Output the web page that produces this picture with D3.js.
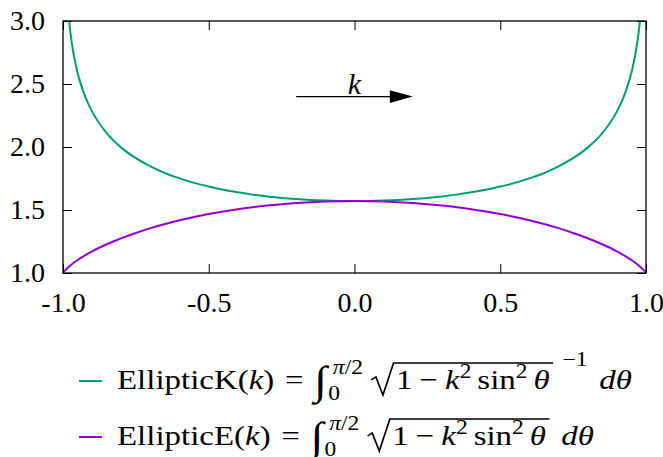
<!DOCTYPE html>
<html>
<head>
<meta charset="utf-8">
<script src="https://cdn.jsdelivr.net/npm/d3@7"></script>
<style>
  html,body{margin:0;padding:0;background:#fff;}
  svg{display:block;}
  svg text{font-family:"Liberation Serif",serif !important;}
</style>
</head>
<body>
<svg id="chart" width="663" height="457"></svg>
<script>
/* ---------- data ---------- */
const kK   = [-0.985,-0.98,-0.975,-0.97,-0.96,-0.95,-0.94,-0.92,-0.9,-0.85,-0.8,-0.75,-0.7,-0.65,-0.6,-0.55,-0.5,-0.45,-0.4,-0.35,-0.3,-0.25,-0.2,-0.15,-0.1,-0.05,
              0,0.05,0.1,0.15,0.2,0.25,0.3,0.35,0.4,0.45,0.5,0.55,0.6,0.65,0.7,0.75,0.8,0.85,0.9,0.92,0.94,0.95,0.96,0.97,0.975,0.98,0.985];
const valK = [3.160,3.021,2.915,2.828,2.693,2.590,2.507,2.378,2.281,2.110,1.995,1.911,1.846,1.793,1.751,1.715,1.686,1.661,1.640,1.622,1.608,1.596,1.587,1.580,1.575,1.572,
              1.571,1.572,1.575,1.580,1.587,1.596,1.608,1.622,1.640,1.661,1.686,1.715,1.751,1.793,1.846,1.911,1.995,2.110,2.281,2.378,2.507,2.590,2.693,2.828,2.915,3.021,3.160];
const kE   = [-1,-0.995,-0.99,-0.98,-0.97,-0.96,-0.95,-0.94,-0.92,-0.9,-0.85,-0.8,-0.75,-0.7,-0.65,-0.6,-0.55,-0.5,-0.45,-0.4,-0.35,-0.3,-0.25,-0.2,-0.15,-0.1,-0.05,
              0,0.05,0.1,0.15,0.2,0.25,0.3,0.35,0.4,0.45,0.5,0.55,0.6,0.65,0.7,0.75,0.8,0.85,0.9,0.92,0.94,0.95,0.96,0.97,0.98,0.99,0.995,1];
const valE = [1.000,1.016,1.028,1.050,1.069,1.087,1.103,1.118,1.146,1.172,1.228,1.276,1.318,1.356,1.389,1.418,1.444,1.468,1.488,1.506,1.522,1.535,1.546,1.555,1.562,1.567,1.570,
              1.571,1.570,1.567,1.562,1.555,1.546,1.535,1.522,1.506,1.488,1.468,1.444,1.418,1.389,1.356,1.318,1.276,1.228,1.172,1.146,1.118,1.103,1.087,1.069,1.050,1.028,1.016,1.000];
const xTicks = [-1,-0.5,0,0.5,1];
const xTickLabels = ["-1.0","-0.5","0.0","0.5","1.0"];
const yTicks = [1,1.5,2,2.5,3];
const yTickLabels = ["1.0","1.5","2.0","2.5","3.0"];
const arrowFrom = [-0.2,2.4], arrowTo = [0.2,2.4], arrowLabelAt = [0,2.5];

/* ---------- layout ---------- */
const FONT = "Liberation Serif";
const GREEN = "#009e73", PURPLE = "#9400d3";
const P = {left:63, right:646, top:21, bottom:273};

const svg = d3.select("#chart");
const x = d3.scaleLinear().domain([-1,1]).range([P.left,P.right]);
const y = d3.scaleLinear().domain([1,3]).range([P.bottom,P.top]);

/* axes: inward ticks, mirrored */
function styleAxis(g){
  g.select(".domain").remove();
  g.attr("font-family",FONT).attr("font-size",28);
  g.selectAll(".tick line").attr("stroke","#000").attr("stroke-width",1);
  g.selectAll(".tick text").attr("fill","#000");
}
svg.append("g").attr("transform",`translate(0,${P.bottom})`)
   .call(d3.axisBottom(x).tickValues(xTicks).tickSize(-9).tickPadding(19)
         .tickFormat((d,i)=>xTickLabels[i])).call(styleAxis);
svg.append("g").attr("transform",`translate(0,${P.top})`)
   .call(d3.axisTop(x).tickValues(xTicks).tickSize(-9).tickFormat("")).call(styleAxis);
svg.append("g").attr("transform",`translate(${P.left},0)`)
   .call(d3.axisLeft(y).tickValues(yTicks).tickSize(-9).tickPadding(18)
         .tickFormat((d,i)=>yTickLabels[i])).call(styleAxis);
svg.append("g").attr("transform",`translate(${P.right},0)`)
   .call(d3.axisRight(y).tickValues(yTicks).tickSize(-9).tickFormat("")).call(styleAxis);

/* curves */
svg.append("clipPath").attr("id","clip").append("rect")
   .attr("x",P.left).attr("y",P.top).attr("width",P.right-P.left).attr("height",P.bottom-P.top);
const line = d3.line().x(d=>x(d[0])).y(d=>y(d[1])).curve(d3.curveMonotoneX);
const plot = svg.append("g").attr("clip-path","url(#clip)");
plot.append("path").datum(kK.map((k,i)=>[k,valK[i]]))
    .attr("d",line).attr("fill","none").attr("stroke",GREEN).attr("stroke-width",2);
plot.append("path").datum(kE.map((k,i)=>[k,valE[i]]))
    .attr("d",line).attr("fill","none").attr("stroke",PURPLE).attr("stroke-width",2);

/* frame */
svg.append("rect").attr("x",P.left).attr("y",P.top)
   .attr("width",P.right-P.left).attr("height",P.bottom-P.top)
   .attr("fill","none").attr("stroke","#000").attr("stroke-width",1.3);

/* arrow + label */
const ax0=x(arrowFrom[0]), ax1=x(arrowTo[0]), ay=y(arrowFrom[1]);
svg.append("line").attr("x1",ax0).attr("x2",ax1-20).attr("y1",ay).attr("y2",ay)
   .attr("stroke","#000").attr("stroke-width",1.3);
svg.append("path").attr("d",`M${ax1},${ay}L${ax1-23},${ay-6.3}L${ax1-23},${ay+6.3}Z`).attr("fill","#000");
svg.append("text").attr("x",x(arrowLabelAt[0])).attr("y",y(arrowLabelAt[1])+10)
   .attr("text-anchor","middle").attr("font-size",30).attr("font-style","italic").text("k");

/* ---------- legend with hand-set math ---------- */
function legendLine(base, color, name, withPow){
  svg.append("line").attr("x1",79).attr("x2",102).attr("y1",base-8).attr("y2",base-8)
     .attr("stroke",color).attr("stroke-width",2);
  const g = svg.append("g");
  let cx = 0;
  function put(str,o={}){
    const el=g.append("text").attr("x",o.at!=null?o.at:cx).attr("y",o.dy||0)
      .attr("font-size",o.size||28).attr("font-style",o.it?"italic":null).text(str);
    const w=el.node().getComputedTextLength();
    if(o.at==null) cx+=w;
    return w;
  }
  put(name+"("); put("k",{it:true}); put(")");
  cx+=9; put("="); cx+=9;
  put("∫",{size:40,dy:5,it:true});
  const xi=cx;
  const w0=put("0",{size:20,dy:11,at:xi+1});
  const wp=put("π",{size:20,dy:-15,it:true,at:xi+5});
  const ws=put("/2",{size:20,dy:-15,at:xi+5+wp});
  cx=Math.max(xi+1+w0, xi+5+wp+ws)+7;
  const r0=cx; cx+=21;
  put("1"); cx+=6; put("−"); cx+=6; put("k",{it:true}); put("2",{size:20,dy:-11});
  cx+=5; put("sin"); put("2",{size:20,dy:-11}); cx+=5; put("θ",{it:true}); cx+=3;
  const r1=cx;
  g.append("path").attr("d",`M${r0},-9L${r0+4},-12L${r0+10},6L${r0+19},-26L${r1},-26`)
   .attr("fill","none").attr("stroke","#000").attr("stroke-width",1.4).attr("stroke-linejoin","miter");
  if(withPow){ cx+=8; put("−1",{size:20,dy:-23}); }
  cx+=10; put("d",{it:true}); put("θ",{it:true});
  return {g, w:cx};
}
const L1=legendLine(389,GREEN,"EllipticK",true);
const L2=legendLine(445,PURPLE,"EllipticE",false);
const s=(632-117)/L1.w;
L1.g.attr("transform",`translate(117,389) scale(${s},1)`);
L2.g.attr("transform",`translate(117,445) scale(${s},1)`);
</script>
</body>
</html>
